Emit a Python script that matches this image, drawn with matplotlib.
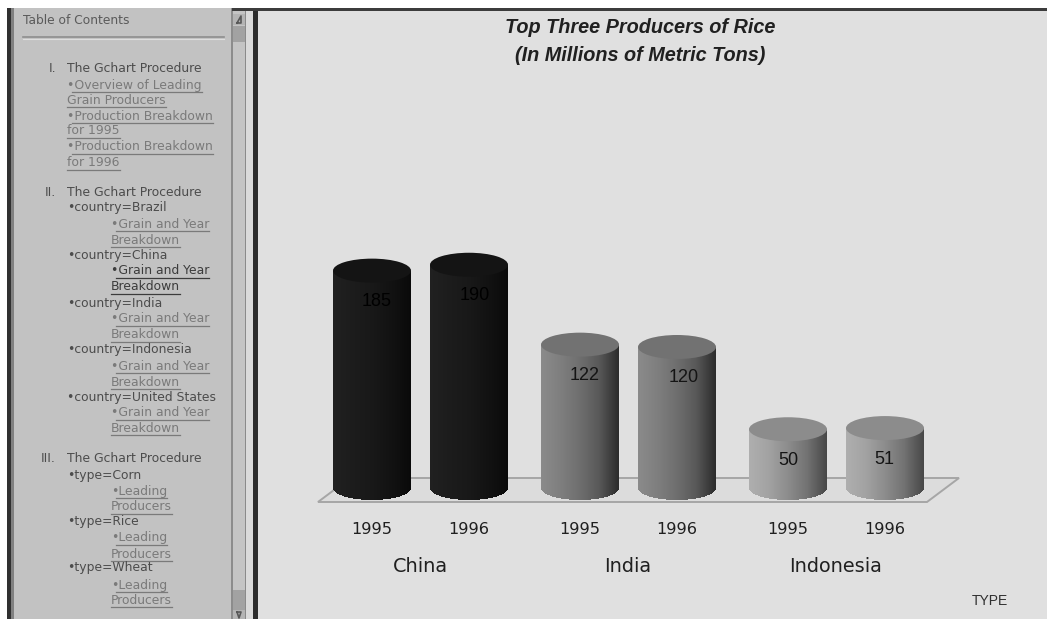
import matplotlib
matplotlib.use("Agg")
import matplotlib.pyplot as plt
from matplotlib.colors import LinearSegmentedColormap
from matplotlib.patches import Ellipse, Polygon, Rectangle

# Rice production figures
countries = ["China", "India", "Indonesia"]
years = ["1995", "1996"]
china_values = [185, 190]
india_values = [122, 120]
indonesia_values = [50, 51]
chart_title = "Top Three Producers of Rice\n(In Millions of Metric Tons)"

# Navigation pane: (text, kind); kinds select indentation and styling
toc_items = [
    (69, "I.", "num"), (69, "The Gchart Procedure", "head"),
    (85, "•Overview of Leading", "link1"), (100, "Grain Producers", "link1c"),
    (116, "•Production Breakdown", "link1"), (131, "for 1995", "link1c"),
    (147, "•Production Breakdown", "link1"), (163, "for 1996", "link1c"),
    (193, "II.", "num"), (193, "The Gchart Procedure", "head"),
    (208, "•country=Brazil", "head"),
    (224, "•Grain and Year", "link2"), (240, "Breakdown", "link2"),
    (256, "•country=China", "head"),
    (271, "•Grain and Year", "active"), (287, "Breakdown", "active"),
    (303, "•country=India", "head"),
    (319, "•Grain and Year", "link2"), (335, "Breakdown", "link2"),
    (350, "•country=Indonesia", "head"),
    (366, "•Grain and Year", "link2"), (382, "Breakdown", "link2"),
    (397, "•country=United States", "head"),
    (413, "•Grain and Year", "link2"), (428, "Breakdown", "link2"),
    (459, "III.", "num"), (459, "The Gchart Procedure", "head"),
    (475, "•type=Corn", "head"),
    (491, "•Leading", "link2"), (507, "Producers", "link2"),
    (522, "•type=Rice", "head"),
    (538, "•Leading", "link2"), (554, "Producers", "link2"),
    (568, "•type=Wheat", "head"),
    (585, "•Leading", "link2"), (600, "Producers", "link2"),
]

W, H = 1047, 619
PANEL_LEFT, PANEL_TOP = 258, 11
BASE_PX = 488
PX_PER_UNIT = 1.175
CYL_W = 78
CYL_RY = 12

fig = plt.figure(figsize=(W / 100, H / 100), dpi=100, facecolor="white")

# Window chrome and navigation pane, laid out in pixels
nav = fig.add_axes([0, 0, 1, 1])
nav.set_xlim(0, W)
nav.set_ylim(H, 0)
nav.axis("off")


def box(x0, y0, x1, y1, color):
    nav.add_patch(Rectangle((x0, y0), x1 - x0, y1 - y0, fc=color, ec="none"))


box(7, 8, 258, H, "#c2c2c2")
box(7, 8, 11, H, "#303030")
box(11, 8, 14, H, "#808080")
box(231, 8, 233, H, "#8c8c8c")
box(233, 8, 245, H, "#c4c4c4")
box(245, 8, 246, H, "#8a8a8a")
box(246, 8, 253, H, "#dadada")
box(253, 8, 258, H, "#2c2c2c")
box(232, 8, W, 11, "#3c3c3c")
box(233, 14, 245, 25, "#b4b4b4")
box(233, 26, 245, 42, "#a2a2a2")
box(233, 590, 245, 610, "#a2a2a2")
box(233, 610, 245, H, "#b4b4b4")
nav.plot([237, 241, 241, 237], [23, 23, 16, 23], color="#585858", lw=1.2)
nav.plot([237, 241, 239, 237], [612, 612, 618, 612], color="#585858", lw=1.2)

nav.text(23, 21, "Table of Contents", fontsize=8.8, color="#5a5a5a",
         va="center", family="DejaVu Sans")
nav.plot([23, 224], [37, 37], color="#8e8e8e", lw=1.2)
nav.plot([23, 224], [38.5, 38.5], color="#dedede", lw=0.8)

TOC_X = {"num": 56, "head": 67, "link1": 67, "link1c": 67, "link2": 111, "active": 111}
TOC_COLOR = {"num": "#4c4c4c", "head": "#4c4c4c", "link1": "#7a7a7a",
             "link1c": "#7a7a7a", "link2": "#7a7a7a", "active": "#3c3c3c"}
renderer = fig.canvas.get_renderer()
inv = nav.transData.inverted()
for y, label, kind in toc_items:
    t = nav.text(TOC_X[kind], y, label, fontsize=8.9, color=TOC_COLOR[kind],
                 va="center", ha="right" if kind == "num" else "left",
                 family="DejaVu Sans")
    if kind in ("link1", "link1c", "link2", "active"):
        bb = t.get_window_extent(renderer)
        x0 = inv.transform((bb.x0, 0))[0]
        x1 = inv.transform((bb.x1, 0))[0]
        if label.startswith("•"):
            x0 += 5
        nav.plot([x0, x1], [y + 7, y + 7], color=TOC_COLOR[kind], lw=0.9)

# Chart panel: x runs in panel pixels, y in millions of metric tons
ax = fig.add_axes([PANEL_LEFT / W, 0, 1 - PANEL_LEFT / W, 1 - PANEL_TOP / H])
ax.set_xlim(PANEL_LEFT, W)
ax.set_ylim((BASE_PX - H) / PX_PER_UNIT, (BASE_PX - PANEL_TOP) / PX_PER_UNIT)
ax.set_facecolor("#e0e0e0")
ax.set_xticks([])
ax.set_yticks([])
for spine in ax.spines.values():
    spine.set_visible(False)


def yv(px):
    return (BASE_PX - px) / PX_PER_UNIT


# Floor plane beneath the cylinders
ax.add_patch(Polygon([(318, yv(502)), (927, yv(502)), (959, yv(478)), (350, yv(478))],
                     closed=True, fc="#dcdcdc", ec="#a6a6a6", lw=1.4, zorder=1))

series = [china_values, india_values, indonesia_values]
group_x = [[372, 469], [580, 677], [788, 885]]
label_nudge = [[5, 6], [5, 7], [0, -1]]
side_colors = [
    ["#202020", "#1c1c1c", "#181818", "#121212", "#0a0a0a"],
    ["#8a8a8a", "#7e7e7e", "#6e6e6e", "#585858", "#2c2c2c"],
    ["#aeaeae", "#a2a2a2", "#8c8c8c", "#727272", "#484848"],
]
top_colors = ["#141414", "#727272", "#8c8c8c"]
label_colors = ["#000000", "#141414", "#141414"]

ry = CYL_RY / PX_PER_UNIT
for values, xs, nudges, stops, top, label_color in zip(
        series, group_x, label_nudge, side_colors, top_colors, label_colors):
    cmap = LinearSegmentedColormap.from_list("side", stops)
    for value, cx, nudge, year in zip(values, xs, nudges, years):
        strips = 78
        for i in range(strips):
            u0 = -1 + 2 * i / strips
            u1 = -1 + 2 * (i + 1) / strips
            um = (u0 + u1) / 2
            drop = ry * (1 - um * um) ** 0.5
            ax.fill_between([cx + u0 * CYL_W / 2, cx + u1 * CYL_W / 2 + 0.4],
                            -drop, value, color=cmap(i / (strips - 1)), lw=0, zorder=3)
        ax.add_patch(Ellipse((cx, value), CYL_W, 2 * ry, fc=top, ec="none", zorder=4))
        ax.annotate(str(value), (cx, value), xytext=(nudge * 0.72, -31 * 0.72),
                    textcoords="offset points", ha="center", va="center",
                    fontsize=13, color=label_color, family="Liberation Sans", zorder=5)
        ax.text(cx, yv(530), year, ha="center", va="center", fontsize=11.6,
                color="#202020", family="DejaVu Sans")

for country, cx in zip(countries, [420, 628, 836]):
    ax.text(cx, yv(566), country, ha="center", va="center", fontsize=13.9,
            color="#202020", family="DejaVu Sans")

ax.text(990, yv(601), "TYPE", ha="center", va="center", fontsize=10,
        color="#303030", family="Liberation Sans")
ax.text(640, yv(41.5), chart_title, ha="center", va="center", fontsize=14.3,
        color="#202020", family="Liberation Sans", weight="bold", style="italic",
        linespacing=1.62)

fig.savefig("out.png", dpi=100, facecolor="white")
